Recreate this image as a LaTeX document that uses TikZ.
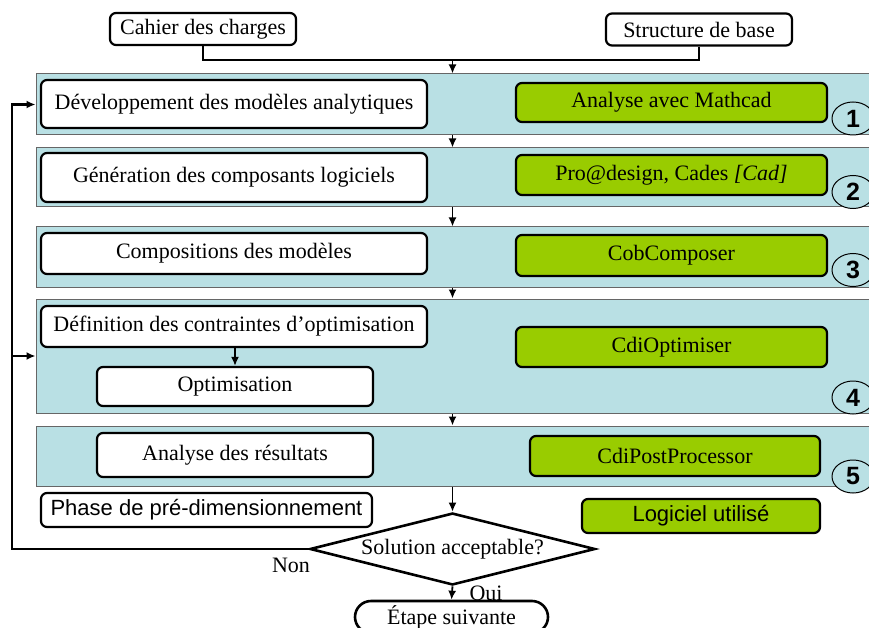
\documentclass[tikz,border=0pt]{standalone}
\usepackage{fontspec}
\setmainfont{Liberation Serif}
\setsansfont{Liberation Sans}
\usetikzlibrary{arrows.meta,shapes.geometric,shapes.misc}
\definecolor{bandblue}{RGB}{185,224,228}
\definecolor{toolgreen}{RGB}{153,204,0}
\def\bigfont{\fontsize{22}{26}\selectfont}
\tikzset{
	band/.style={draw=black!60, line width=1pt, fill=bandblue, minimum width=833pt, inner sep=0pt},
	stepbox/.style={draw, line width=2.2pt, fill=white, rounded corners=6pt, inner sep=0pt, font=\bigfont},
	toolbox/.style={stepbox, fill=toolgreen},
	numtag/.style={draw, ellipse, line width=1pt, fill=bandblue, minimum width=42pt, minimum height=33pt, inner sep=0pt, font=\fontsize{25}{28}\selectfont\sffamily\bfseries},
	flow/.style={-{Latex[length=9pt,width=8pt]}, line width=1.8pt},
}

\begin{document}
\begin{tikzpicture}[x=1pt, y=-1pt]
		%%%%% START %%%%%
		\clip (0, 0) rectangle (869, 628);
		\fill[white] (0, 0) rectangle (869, 628);
		
		\node[stepbox, minimum width=186pt, minimum height=32pt] (cahier) at (203, 29) {Cahier des charges};
		\node[stepbox, minimum width=186pt, minimum height=32pt] (structure) at (699, 29.5) {Structure de base};
		
		\node[band, minimum height=61pt] (b1) at (452.5, 104.5) {};
		\node[band, minimum height=59pt] (b2) at (452.5, 177.5) {};
		\node[band, minimum height=60pt] (b3) at (452.5, 257) {};
		\node[band, minimum height=114pt] (b4) at (452.5, 356) {};
		\node[band, minimum height=60pt] (b5) at (452.5, 456) {};
		
		\node[stepbox, minimum width=386pt, minimum height=48pt] (s1) at (234, 104) {Développement des modèles analytiques};
		\node[stepbox, minimum width=386pt, minimum height=49pt] (s2) at (234, 177.5) {Génération des composants logiciels};
		\node[stepbox, minimum width=386pt, minimum height=41pt] (s3) at (234, 253.5) {Compositions des modèles};
		\node[stepbox, minimum width=386pt, minimum height=41pt] (s4) at (234, 326.5) {Définition des contraintes d’optimisation};
		\node[stepbox, minimum width=276pt, minimum height=39pt] (opt) at (235, 386.5) {Optimisation};
		\node[stepbox, minimum width=276pt, minimum height=44pt] (s5) at (235, 455) {Analyse des résultats};
		
		\node[toolbox, minimum width=311pt, minimum height=39pt] (g1) at (671.5, 102.5) {Analyse avec Mathcad};
		\node[toolbox, minimum width=311pt, minimum height=40pt] (g2) at (671.5, 175) {Pro@design, Cades \textit{[Cad]}};
		\node[toolbox, minimum width=311pt, minimum height=41pt] (g3) at (671.5, 255.5) {CobComposer};
		\node[toolbox, minimum width=311pt, minimum height=40pt] (g4) at (671.5, 347) {CdiOptimiser};
		\node[toolbox, minimum width=290pt, minimum height=40pt] (g5) at (675, 456) {CdiPostProcessor};
		
		\node[numtag] (n1) at (853, 118.5) {1};
		\node[numtag] (n2) at (853, 192) {2};
		\node[numtag] (n3) at (853, 270) {3};
		\node[numtag] (n4) at (853, 397.5) {4};
		\node[numtag] (n5) at (853, 476.5) {5};
		
		\node[stepbox, minimum width=331pt, minimum height=34pt, font=\bigfont\sffamily] (phase) at (206.5, 510) {Phase de pré-dimensionnement};
		\node[toolbox, minimum width=238pt, minimum height=34pt, font=\bigfont\sffamily] (legend) at (701, 516) {Logiciel utilisé};
		
		\node[draw, diamond, aspect=3.96, line width=2.6pt, fill=white, minimum width=285pt, minimum height=72pt, inner sep=0pt, font=\bigfont] (dia) at (452.5, 549) {Solution acceptable?};
		\node[draw, rounded rectangle, line width=2.6pt, fill=white, minimum width=193pt, minimum height=32pt, inner sep=0pt, font=\bigfont] (etape) at (451.5, 617) {Étape suivante};
		
		\coordinate (j) at (452.5, 60);
		\draw[line width=2.4pt] (cahier.south) |- (j) -| (structure.south);
		\draw[flow] (j) -- (b1.north);
		\draw[flow] (b1.south) -- (b2.north);
		\draw[flow] (b2.south) -- (b3.north);
		\draw[flow] (b3.south) -- (b4.north);
		\draw[flow] (b4.south) -- (b5.north);
		\draw[flow] (opt.north |- s4.south) -- (opt.north);
		\draw[flow] (b5.south) -- (dia.north);
		\draw[flow] (dia.south) -- (etape.north);
		
		\coordinate (back) at (12, 549);
		\draw[flow, line width=2.8pt] (dia.west) -- (back) |- (b1.west);
		\draw[flow, line width=2.4pt] (back |- b4.west) -- (b4.west);
		
		\node[font=\bigfont] (non) at (291, 565) {Non};
		\node[font=\bigfont] (oui) at (486, 593) {Oui};
		%%%%% END %%%%%
	\end{tikzpicture}
\end{document}
